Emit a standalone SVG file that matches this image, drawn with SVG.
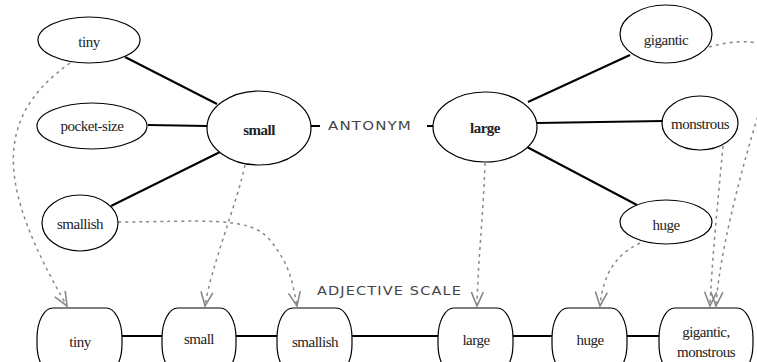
<svg xmlns="http://www.w3.org/2000/svg" width="757" height="362" viewBox="0 0 757 362">
<style>
.n ellipse{fill:#fff;stroke:#000;stroke-width:1.2}
.b rect{fill:#fff;stroke:#000;stroke-width:1.2}
.t{font-family:"Liberation Serif",serif;font-size:15px;fill:#222;text-anchor:middle;letter-spacing:-0.5px}
.bold{font-weight:bold}
.lbl{font-family:"DejaVu Sans",sans-serif;font-size:13px;fill:#444;text-anchor:start;letter-spacing:1px}
.solid line{stroke:#000;stroke-width:2}
.dash path{fill:none;stroke:#888;stroke-width:1.5;stroke-dasharray:3,4;marker-end:url(#ah)}
</style>
<defs>
<marker id="ah" viewBox="0 0 16 14" refX="15" refY="7" markerWidth="16" markerHeight="14" markerUnits="userSpaceOnUse" orient="auto">
<path d="M1,1 L15,7 L1,13" fill="none" stroke="#888" stroke-width="1.6"/>
</marker>
</defs>
<g id="connectors">
<g class="solid">
<line x1="125" y1="57" x2="217" y2="104"/>
<line x1="148" y1="125" x2="207" y2="126"/>
<line x1="220" y1="152" x2="111" y2="206"/>
<line x1="311" y1="126" x2="320" y2="126"/>
<line x1="427" y1="126" x2="434" y2="126"/>
<line x1="528" y1="102" x2="630" y2="55"/>
<line x1="537" y1="123" x2="663" y2="121"/>
<line x1="527" y1="147" x2="637" y2="205"/>
<line x1="122" y1="336" x2="162" y2="336"/>
<line x1="236" y1="336" x2="277" y2="336"/>
<line x1="352" y1="336" x2="438" y2="336"/>
<line x1="513" y1="336" x2="552" y2="336"/>
<line x1="627" y1="336" x2="659" y2="336"/>
</g>
<g class="dash">
<path d="M70,63 C-10,120 0,190 67,306"/>
<path d="M245,165 C238,200 210,270 205,306"/>
<path d="M118,222 C200,222 250,215 270,240 S292,280 297,306"/>
<path d="M485,163 C483,220 478,260 477,306"/>
<path d="M640,243 C615,255 603,275 600,306"/>
<path d="M723,146 C718,200 712,260 710,306"/>
<path d="M709,47 C750,36 785,40 770,80 C755,120 720,240 716,306"/>
</g>
<text class="lbl" x="328" y="130" textLength="84" lengthAdjust="spacingAndGlyphs">ANTONYM</text>
<text class="lbl" x="317" y="295" textLength="145" lengthAdjust="spacingAndGlyphs">ADJECTIVE SCALE</text>
</g>
<g id="n-tiny" class="n"><ellipse cx="89" cy="40" rx="51" ry="23"/><text class="t" x="89" y="47" font-family="Liberation Serif">tiny</text></g>
<g id="n-pocket" class="n"><ellipse cx="92" cy="126" rx="55" ry="23"/><text class="t" x="92" y="131">pocket-size</text></g>
<g id="n-small" class="n"><ellipse cx="259" cy="128" rx="52" ry="37"/><text class="t bold" x="259" y="135">small</text></g>
<g id="n-smallish" class="n"><ellipse cx="80" cy="223" rx="38" ry="28"/><text class="t" x="80" y="229">smallish</text></g>
<g id="n-large" class="n"><ellipse cx="485" cy="127" rx="52" ry="35"/><text class="t bold" x="485" y="133">large</text></g>
<g id="n-gigantic" class="n"><ellipse cx="666" cy="34" rx="46" ry="29"/><text class="t" x="666" y="45">gigantic</text></g>
<g id="n-monstrous" class="n"><ellipse cx="700" cy="123" rx="38" ry="27"/><text class="t" x="700" y="129">monstrous</text></g>
<g id="n-huge" class="n"><ellipse cx="666" cy="222" rx="46" ry="22"/><text class="t" x="666" y="230">huge</text></g>
<g id="b-tiny" class="b"><rect x="37" y="308" width="85" height="66" rx="16" ry="30"/><text class="t" x="80" y="347">tiny</text></g>
<g id="b-small" class="b"><rect x="162" y="308" width="74" height="66" rx="16" ry="30"/><text class="t" x="199" y="344">small</text></g>
<g id="b-smallish" class="b"><rect x="277" y="308" width="75" height="66" rx="16" ry="30"/><text class="t" x="315" y="347">smallish</text></g>
<g id="b-large" class="b"><rect x="438" y="308" width="75" height="66" rx="16" ry="30"/><text class="t" x="476" y="345">large</text></g>
<g id="b-huge" class="b"><rect x="552" y="308" width="75" height="66" rx="16" ry="30"/><text class="t" x="590" y="345">huge</text></g>
<g id="b-gigmon" class="b"><rect x="659" y="308" width="94" height="66" rx="16" ry="30"/><text class="t" x="706" y="337">gigantic,</text><text class="t" x="706" y="357">monstrous</text></g>
</svg>
